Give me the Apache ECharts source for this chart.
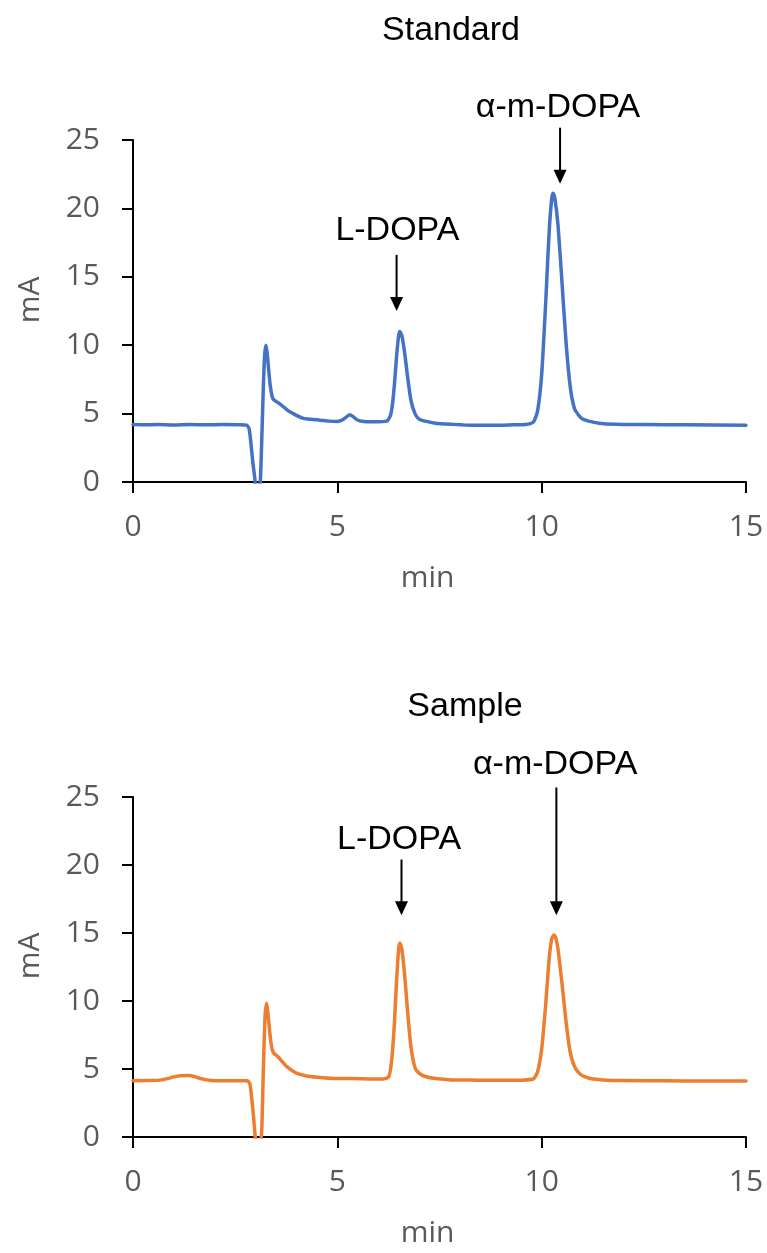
<!DOCTYPE html>
<html>
<head>
<meta charset="utf-8">
<script src="https://cdn.jsdelivr.net/npm/echarts@6/dist/echarts.min.js"></script>
<style>
html,body{margin:0;padding:0;background:#fff;}
#c{width:767px;height:1253px;}
</style>
</head>
<body>
<div id="c"></div>
<script>
// ---- Data ----
const chartTitles = ['Standard', 'Sample'];
const xTicks = [0, 5, 10, 15];
const yTicks = [0, 5, 10, 15, 20, 25];
const xAxisName = 'min';
const yAxisName = 'mA';

const stdTime = [0,0.3,0.6,1.0,1.4,1.8,2.2,2.6,2.78,2.84,2.88,2.93,2.99,3.04,3.08,3.12,3.15,3.19,3.22,3.25,3.28,3.32,3.36,3.41,3.45,3.55,3.68,3.8,3.92,4.05,4.17,4.35,4.58,4.8,4.98,5.1,5.2,5.3,5.38,5.48,5.64,5.9,6.21,6.3,6.35,6.4,6.45,6.5,6.53,6.58,6.65,6.72,6.8,6.9,7.0,7.15,7.4,7.8,8.3,8.8,9.3,9.6,9.8,9.9,10.0,10.1,10.15,10.2,10.25,10.28,10.32,10.4,10.5,10.6,10.7,10.8,10.9,11.0,11.15,11.4,11.8,12.5,13.5,15.0];
const stdSignal = [4.2,4.18,4.2,4.17,4.2,4.18,4.2,4.19,4.15,3.9,3.0,1.5,0,-2.0,-1.5,0.3,3.0,7.0,9.2,10.0,9.5,8.2,7.0,6.2,6.0,5.8,5.5,5.2,5.0,4.8,4.65,4.58,4.52,4.45,4.42,4.5,4.7,4.92,4.8,4.55,4.42,4.4,4.45,4.87,5.7,7.24,9.2,10.7,11.0,10.68,9.38,7.66,5.99,5.0,4.6,4.45,4.3,4.22,4.15,4.15,4.18,4.2,4.39,5.2,7.85,13.2,16.35,19.1,20.8,21.1,20.8,18.77,14.46,10.07,6.93,5.4,4.9,4.6,4.45,4.3,4.22,4.2,4.18,4.15];

const smpTime = [0,0.4,0.7,0.85,1.0,1.15,1.35,1.5,1.65,1.8,2.0,2.4,2.8,2.86,2.9,2.95,2.99,3.05,3.1,3.15,3.19,3.23,3.27,3.3,3.35,3.4,3.45,3.55,3.65,3.75,3.85,4.0,4.25,4.5,4.9,5.4,5.8,6.12,6.25,6.3,6.35,6.4,6.45,6.5,6.53,6.58,6.65,6.72,6.8,6.9,7.0,7.15,7.4,7.8,8.4,9.0,9.5,9.8,9.9,10.0,10.1,10.15,10.2,10.25,10.3,10.35,10.4,10.5,10.6,10.7,10.8,10.9,11.0,11.2,11.5,12.0,13.0,14.0,15.0];
const smpSignal = [4.14,4.15,4.2,4.3,4.42,4.5,4.52,4.45,4.3,4.2,4.14,4.14,4.14,3.9,3.0,1.5,0,-2.0,-1.0,0.5,5.0,8.8,9.83,9.2,7.6,6.5,6.15,5.9,5.55,5.2,4.98,4.7,4.49,4.4,4.31,4.31,4.27,4.26,4.4,4.96,6.3,8.55,11.5,13.8,14.26,13.78,11.8,9.2,6.67,5.1,4.7,4.45,4.3,4.2,4.18,4.17,4.18,4.27,4.8,6.46,9.8,11.85,13.6,14.6,14.85,14.6,13.8,11.23,8.38,6.2,5.2,4.75,4.5,4.3,4.2,4.15,4.13,4.12,4.12];

// Annotations (data units: min, mA)
const annLabels  = ['L-DOPA', 'α-m-DOPA', 'L-DOPA', 'α-m-DOPA'];
const annChart   = [0, 0, 1, 1];
const annArrowX  = [6.45, 10.45, 6.57, 10.36];
const annTailY   = [16.6, 25.9, 20.4, 25.7];
const annTipY    = [12.5, 21.8, 16.3, 16.3];
const annTextX   = [6.47, 10.40, 6.51, 10.33];
const annTextY   = [18.4, 27.4, 21.9, 27.4];

// ---- Chart ----
const colors = ['#4472C4', '#ED7D31'];
const grey = '#595959';
const tickFont = 'Open Sans';
const gridTops = [140, 797];
const gridHeights = [342, 340];

function zip(a, b) { return a.map((v, i) => [v, b[i]]); }
const seriesData = [zip(stdTime, stdSignal), zip(smpTime, smpSignal)];

const chart = echarts.init(document.getElementById('c'), null, {renderer: 'canvas'});

const grids = [], xAxes = [], yAxes = [], series = [];
for (let i = 0; i < 2; i++) {
  grids.push({left: 133, width: 613, top: gridTops[i], height: gridHeights[i], containLabel: false});
  xAxes.push({
    type: 'value', gridIndex: i, min: xTicks[0], max: xTicks[xTicks.length - 1], interval: xTicks[1] - xTicks[0],
    axisLine: {show: true, onZero: false, lineStyle: {color: '#000', width: 2}},
    axisTick: {show: true, length: 11, inside: false, lineStyle: {color: '#000', width: 2}},
    splitLine: {show: false},
    axisLabel: {color: grey, fontFamily: tickFont, fontSize: 30, margin: 30},
    name: xAxisName, nameLocation: 'middle', nameGap: 81,
    nameTextStyle: {color: grey, fontFamily: tickFont, fontSize: 30, padding: [0, 24, 0, 0]}
  });
  yAxes.push({
    type: 'value', gridIndex: i, min: yTicks[0], max: yTicks[yTicks.length - 1], interval: yTicks[1] - yTicks[0],
    axisLine: {show: true, lineStyle: {color: '#000', width: 2}},
    axisTick: {show: true, length: 11, inside: false, lineStyle: {color: '#000', width: 2}},
    splitLine: {show: false},
    axisLabel: {color: grey, fontFamily: tickFont, fontSize: 30, margin: 33},
    name: yAxisName, nameLocation: 'middle', nameGap: 88, nameRotate: 90,
    nameTextStyle: {color: grey, fontFamily: tickFont, fontSize: 30, padding: [0, 0, 0, 22]}
  });
  series.push({
    type: 'line', xAxisIndex: i, yAxisIndex: i, data: seriesData[i],
    showSymbol: false, symbol: 'none', clip: true, smooth: 0.2,
    lineStyle: {color: colors[i], width: 3.5, join: 'round', cap: 'round'},
    itemStyle: {color: colors[i]}, animation: false
  });
}

chart.setOption({
  animation: false,
  backgroundColor: '#ffffff',
  grid: grids, xAxis: xAxes, yAxis: yAxes, series: series
});

// Titles and annotation arrows placed via the library's coordinate conversion
const titleCenters = [[451, 31], [465, 707]];
const graphics = [];
for (let i = 0; i < 2; i++) {
  graphics.push({
    type: 'text', x: titleCenters[i][0], y: titleCenters[i][1],
    style: {text: chartTitles[i], fill: '#000', font: '34px "Liberation Sans", Arial, sans-serif', textAlign: 'center', textVerticalAlign: 'middle'}
  });
}
for (let k = 0; k < annLabels.length; k++) {
  const ci = annChart[k];
  const finder = {xAxisIndex: ci, yAxisIndex: ci};
  const tail = chart.convertToPixel(finder, [annArrowX[k], annTailY[k]]);
  const tip = chart.convertToPixel(finder, [annArrowX[k], annTipY[k]]);
  const txt = chart.convertToPixel(finder, [annTextX[k], annTextY[k]]);
  const headH = 14, headW = 13;
  graphics.push({
    type: 'line', shape: {x1: tail[0], y1: tail[1], x2: tip[0], y2: tip[1] - headH + 1},
    style: {stroke: '#000', lineWidth: 2}
  });
  graphics.push({
    type: 'polygon', shape: {points: [[tip[0] - headW / 2, tip[1] - headH], [tip[0] + headW / 2, tip[1] - headH], [tip[0], tip[1]]]},
    style: {fill: '#000'}
  });
  graphics.push({
    type: 'text', x: txt[0], y: txt[1],
    style: {text: annLabels[k], fill: '#000', font: '34px "Liberation Sans", Arial, sans-serif', textAlign: 'center', textVerticalAlign: 'middle'}
  });
}
chart.setOption({graphic: graphics});
</script>
</body>
</html>
